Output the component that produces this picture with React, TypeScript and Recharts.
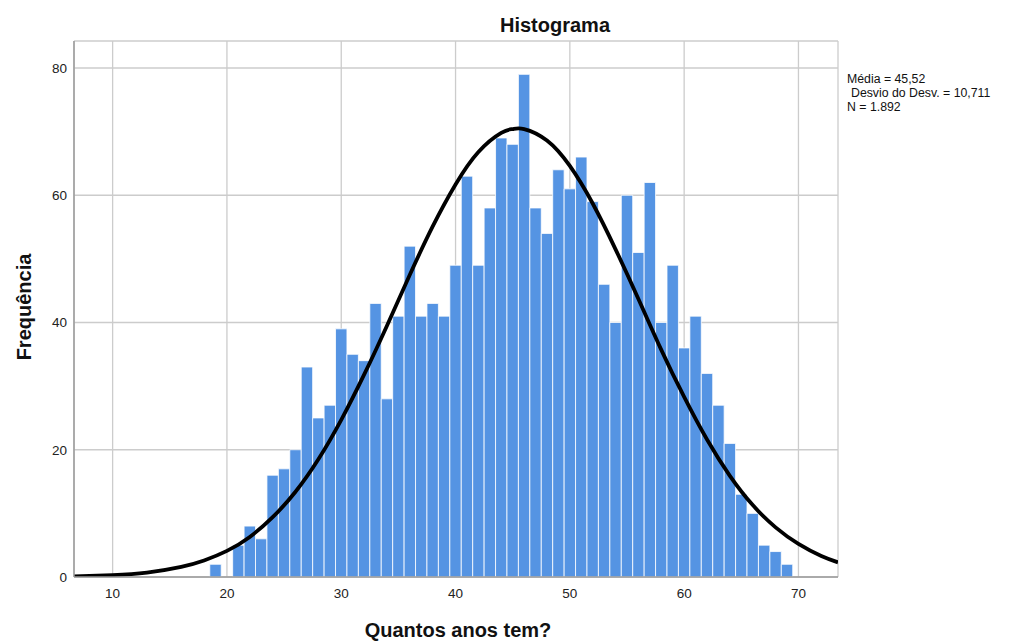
import { ComposedChart, Bar, Line, XAxis, YAxis, CartesianGrid } from 'recharts';

// idade (anos) e frequência de cada classe
const ages = [
    19, 20, 21, 22, 23, 24, 25, 26, 27, 28, 29, 30, 31, 32, 33, 34, 35, 36, 37, 38, 39, 40, 41, 42, 43, 44,
    45, 46, 47, 48, 49, 50, 51, 52, 53, 54, 55, 56, 57, 58, 59, 60, 61, 62, 63, 64, 65, 66, 67, 68, 69,
];
const counts = [
    2, 0, 5, 8, 6, 16, 17, 20, 33, 25, 27, 39, 35, 34, 43, 28, 41, 52, 41, 43, 41, 49, 63, 49, 58, 69,
    68, 79, 58, 54, 64, 61, 66, 59, 46, 40, 60, 51, 62, 40, 49, 36, 41, 32, 27, 21, 13, 10, 5, 4, 2,
];

// curva normal
const curveX = [
    6.62, 10, 13, 16, 18, 20, 22, 24, 26, 28, 30, 32, 34, 36, 38, 40, 42, 44, 45, 46, 48, 50, 52, 54, 56,
    58, 60, 62, 64, 66, 68, 70, 72, 73.46,
];
const curveY = [
    0.1, 0.3, 0.7, 1.6, 2.6, 4.1, 6.3, 9.4, 13.4, 18.5, 24.7, 31.8, 39.5, 47.5, 55.1, 61.7, 66.8, 69.8,
    70.4, 70.4, 68.6, 64.6, 58.7, 51.5, 43.7, 35.7, 28.3, 21.6, 15.9, 11.3, 7.8, 5.2, 3.3, 2.3,
];

const xTicks = [10, 20, 30, 40, 50, 60, 70];
const yTicks = [0, 20, 40, 60, 80];

const barData = ages.map((age, i) => ({ age, count: counts[i] }));
const curveData = curveX.map((age, i) => ({ age, curve: curveY[i] }));

const font = '"Liberation Sans", Arial, sans-serif';

const App = () => {
    return (
        <div style={{ position: 'absolute', left: 0, top: 0, width: 1019, height: 642, fontFamily: font }}>
            <ComposedChart
                width={1019}
                height={642}
                data={barData}
                margin={{ top: 41, right: 181, bottom: 35, left: 0 }}
                barCategoryGap={0}
                barGap={0}
            >
                <CartesianGrid stroke="#cccccc" strokeWidth={1.3} />
                <XAxis
                    dataKey="age"
                    type="number"
                    domain={[6.62, 73.46]}
                    allowDataOverflow
                    ticks={xTicks}
                    height={30}
                    tickLine={false}
                    tickSize={0}
                    tickMargin={11}
                    axisLine={{ stroke: '#9a9a9a', strokeWidth: 1.5 }}
                    tick={{ fill: '#222', fontSize: 13.5, fontFamily: font }}
                />
                <YAxis
                    type="number"
                    domain={[0, 84.24]}
                    allowDataOverflow
                    ticks={yTicks}
                    width={74}
                    tickLine={false}
                    tickSize={0}
                    tickMargin={7}
                    axisLine={{ stroke: '#9a9a9a', strokeWidth: 1.5 }}
                    tick={{ fill: '#222', fontSize: 13.5, fontFamily: font }}
                />
                <Bar
                    dataKey="count"
                    barSize={11.43}
                    fill="#5594e3"
                    stroke="#ffffff"
                    strokeWidth={0.8}
                    isAnimationActive={false}
                />
                <Line
                    data={curveData}
                    dataKey="curve"
                    type="natural"
                    stroke="#000000"
                    strokeWidth={3.8}
                    dot={false}
                    activeDot={false}
                    isAnimationActive={false}
                />
            </ComposedChart>
            <svg
                width={1019}
                height={642}
                style={{ position: 'absolute', left: 0, top: 0, pointerEvents: 'none' }}
                fontFamily={font}
            >
                <text x={555} y={31.5} textAnchor="middle" fontSize={20} fontWeight="bold" fill="#111">
                    Histograma
                </text>
                <text x={458} y={637} textAnchor="middle" fontSize={20} fontWeight="bold" fill="#111">
                    Quantos anos tem?
                </text>
                <text
                    x={0}
                    y={0}
                    transform="translate(31,307) rotate(-90)"
                    textAnchor="middle"
                    fontSize={20}
                    fontWeight="bold"
                    fill="#111"
                >
                    Frequência
                </text>
                <text fontSize={12.3} fill="#111">
                    <tspan x={847} y={82.5}>Média = 45,52</tspan>
                    <tspan x={851} y={96.7}>Desvio do Desv. = 10,711</tspan>
                    <tspan x={847} y={110.9}>N = 1.892</tspan>
                </text>
            </svg>
        </div>
    );
};

export default App;
